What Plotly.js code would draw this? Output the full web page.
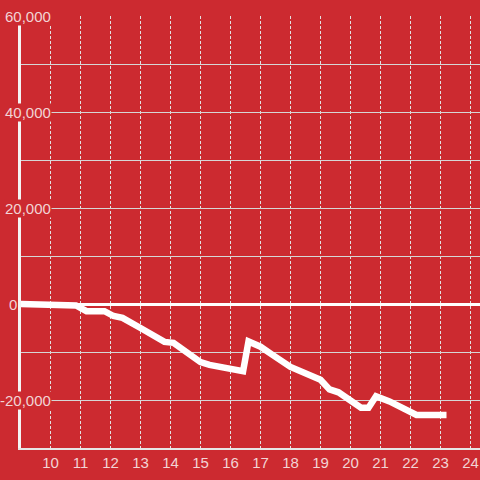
<!DOCTYPE html>
<html>
<head>
<meta charset="utf-8">
<script src="https://cdn.plot.ly/plotly-3.0.1.min.js"></script>
<style>html,body{margin:0;padding:0;background:#CC2A30;}#chart{width:480px;height:480px;}</style>
</head>
<body>
<div id="chart"></div>
<script>
// Data
const hours = [9, 10.7, 10.85, 11.2, 11.8, 12.1, 12.4, 13.0, 13.6, 13.8, 14.1, 14.4, 15.0, 15.3, 15.7, 16.3, 16.42, 16.6, 17.0, 17.4, 18.0, 19.0, 19.3, 19.6, 20.0, 20.35, 20.6, 20.85, 21.3, 21.6, 22.2, 23.2];
const values = [0, 0, -300, -1500, -1500, -2500, -2900, -5000, -7300, -7900, -8100, -9300, -12100, -12700, -13100, -13800, -14000, -7800, -8900, -10600, -13100, -15800, -17800, -18400, -20100, -21600, -21600, -19200, -20300, -21200, -23100, -23100];
const yGridVals = [-30000, -20000, -10000, 0, 10000, 20000, 30000, 40000, 50000, 60000];
const yLabelVals = [60000, 40000, 20000, 0, -20000];
const yLabelText = ['60,000', '40,000', '20,000', '0', '-20,000'];
const xTickVals = [10, 11, 12, 13, 14, 15, 16, 17, 18, 19, 20, 21, 22, 23, 24];

const BG = '#CC2A30';
const LABEL = '#F2D4D5';
const FONT = 'Liberation Sans, Arial, sans-serif';

const L = 21, W = 480;
const plotW = W - L;
const px = p => (p - L) / plotW;

const annotations = yLabelVals.map((v, i) => ({
  xref: 'paper', yref: 'y',
  x: v === 0 ? px(8) : px(52),
  xanchor: v === 0 ? 'left' : 'right',
  y: v, yanchor: 'middle',
  text: yLabelText[i],
  showarrow: false,
  bgcolor: BG,
  borderpad: 0,
  font: {family: FONT, size: 15, color: LABEL}
}));

const trace = {
  x: hours, y: values,
  type: 'scatter', mode: 'lines',
  line: {color: '#FFFFFF', width: 6.5},
  hoverinfo: 'skip'
};

const layout = {
  width: 480, height: 480,
  margin: {l: L, r: 0, t: 16, b: 32},
  paper_bgcolor: BG, plot_bgcolor: BG,
  showlegend: false,
  font: {family: FONT, size: 15, color: LABEL},
  xaxis: {
    range: [9.0167, 24.3167],
    tickmode: 'array', tickvals: xTickVals,
    ticktext: xTickVals.map(String),
    showgrid: true, gridcolor: '#E2E2E2', gridwidth: 1, griddash: '3px,2px',
    zeroline: false,
    showline: true, linecolor: '#E6E6E6', linewidth: 1.5,
    ticks: '',
    tickfont: {family: FONT, size: 15, color: LABEL}
  },
  yaxis: {
    range: [-30000, 60000],
    tickmode: 'array', tickvals: yGridVals,
    showticklabels: false,
    showgrid: true, gridcolor: '#D6D6D6', gridwidth: 1,
    zeroline: true, zerolinecolor: '#FFFFFF', zerolinewidth: 3,
    showline: true, linecolor: '#F4F4F4', linewidth: 3,
    ticks: ''
  },
  annotations: annotations
};

Plotly.newPlot('chart', [trace], layout, {staticPlot: true, displayModeBar: false});
</script>
</body>
</html>
